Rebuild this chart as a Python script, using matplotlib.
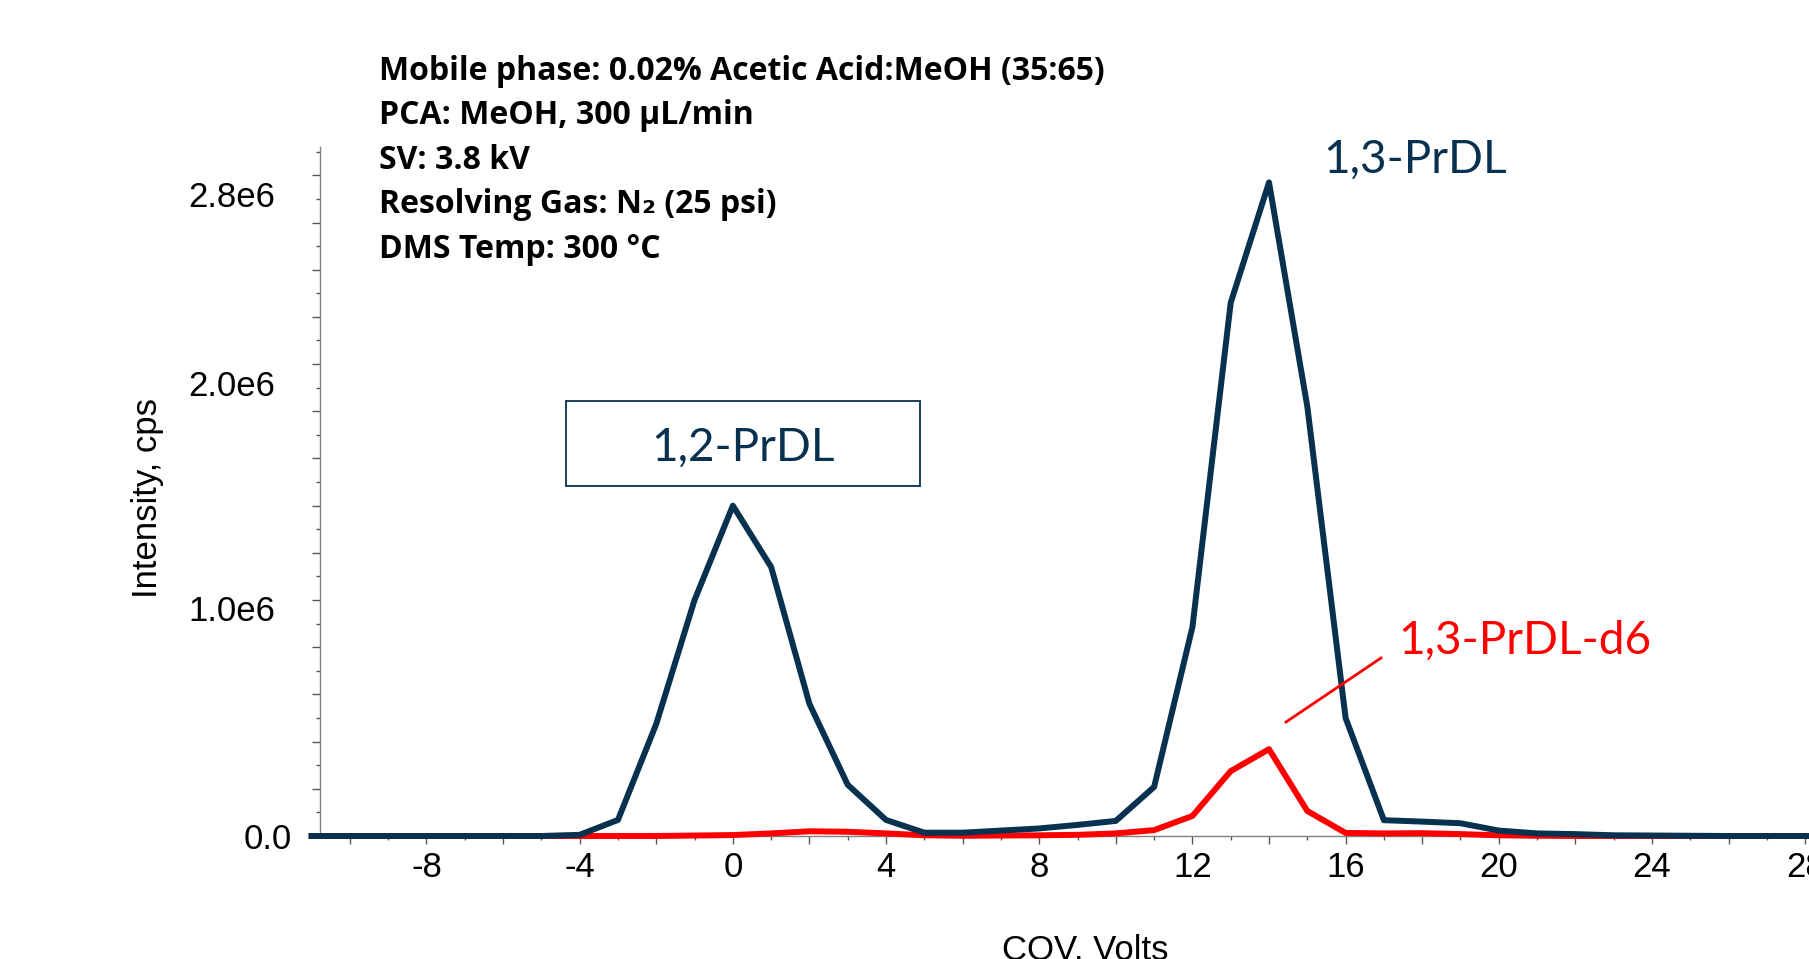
import matplotlib
matplotlib.use("Agg")
import matplotlib.pyplot as plt
import matplotlib.ticker as mticker
from matplotlib.patches import Rectangle
from matplotlib.lines import Line2D
from matplotlib.transforms import ScaledTranslation

# compensation voltage (V) and intensities (cps)
cov_volts = [-11, -10, -9, -8, -7, -6, -5, -4, -3, -2, -1, 0, 1, 2, 3, 4, 5, 6, 7, 8, 9,
             10, 11, 12, 13, 14, 15, 16, 17, 18, 19, 20, 21, 22, 23, 24, 25, 26, 27, 28, 29, 30]
prdl_cps = [0, 0, 0, 0, 0, 0, 0, 5e3, 68e3, 475e3, 1.00e6, 1.40e6, 1.14e6, 560e3, 217e3, 68e3,
            14e3, 14e3, 23e3, 32e3, 47e3, 64e3, 208e3, 885e3, 2.26e6, 2.77e6, 1.82e6, 500e3,
            67e3, 61e3, 54e3, 23e3, 11e3, 8e3, 3e3, 2e3, 1e3, 0, 0, 0, 0, 0]
d6_cps = [0, 0, 0, 0, 0, 0, 0, 0, 0, 0, 2e3, 4e3, 11e3, 20e3, 18e3, 11e3, 3e3, 1e3, 2e3, 3e3,
          5e3, 11e3, 25e3, 85e3, 275e3, 368e3, 106e3, 13e3, 11e3, 12e3, 8e3, 3e3, 1e3, 0, 0,
          0, 0, 0, 0, 0, 0, 0]

ytick_vals = [0, 1.0e6, 2.0e6, 2.8e6]
ytick_text = ["0.0", "1.0e6", "2.0e6", "2.8e6"]
xtick_label_step = 4

info_lines = ["Mobile phase: 0.02% Acetic Acid:MeOH (35:65)",
              "PCA: MeOH, 300 µL/min",
              "SV: 3.8 kV",
              "Resolving Gas: N\u2082 (25 psi)",
              "DMS Temp: 300 °C"]

# the y labels in the original sit a little off their ticks (px right, px down)
ytick_nudge_px = [(16, 0), (0, 8), (0, 19), (0, 19)]

navy = "#08304f"
red = "#ff0000"
narrow = ["Liberation Sans Narrow", "Liberation Sans", "DejaVu Sans"]
calib = ["Lato", "DejaVu Sans"]
bold_font = ["Open Sans", "DejaVu Sans"]

W, H = 1809, 959
fig = plt.figure(figsize=(W / 100, H / 100), dpi=100)
ax = fig.add_axes([320 / W, 1 - 836 / H, 1489 / W, 689 / H])

ax.plot(cov_volts, d6_cps, color=red, lw=4.3, clip_on=False, zorder=3)
ax.plot(cov_volts, prdl_cps, color=navy, lw=4.3, clip_on=False, zorder=4)

ax.set_xlim(-10.78, 28.1)
ax.set_ylim(0, 2.92e6)

for s in ["top", "right"]:
    ax.spines[s].set_visible(False)
for s in ["left", "bottom"]:
    ax.spines[s].set_color("#808080")
    ax.spines[s].set_linewidth(1.0)

ax.xaxis.set_major_locator(mticker.MultipleLocator(2))
ax.xaxis.set_minor_locator(mticker.MultipleLocator(1))
ax.xaxis.set_major_formatter(mticker.FuncFormatter(
    lambda v, p: "%d" % round(v) if round(v) % xtick_label_step == 0 else ""))

ax.yaxis.set_major_locator(mticker.MultipleLocator(0.2e6))
ax.yaxis.set_minor_locator(mticker.MultipleLocator(0.1e6))


def yfmt(v, p):
    for tv, tt in zip(ytick_vals, ytick_text):
        if abs(v - tv) < 1e3:
            return tt
    return ""


ax.yaxis.set_major_formatter(mticker.FuncFormatter(yfmt))

ax.tick_params(which="major", length=6, width=1, color="#555555")
ax.tick_params(which="minor", length=3, width=1, color="#555555")
ax.tick_params(axis="x", pad=5)
ax.tick_params(axis="y", pad=26)
for lbl in ax.get_xticklabels() + ax.get_yticklabels():
    lbl.set_family(narrow)
    lbl.set_fontsize(25)

fig.canvas.draw()
for tick, loc in zip(ax.yaxis.get_major_ticks(), ax.yaxis.get_majorticklocs()):
    for tv, (dx, dy) in zip(ytick_vals, ytick_nudge_px):
        if abs(loc - tv) < 1e3:
            tick.label1.set_transform(tick.label1.get_transform() +
                                      ScaledTranslation(dx / 100, -dy / 100, fig.dpi_scale_trans))

# axis titles
fig.text(1085 / W, -0.001, "COV, Volts", family=narrow, fontsize=25, ha="center", va="baseline")
fig.text(148 / W, 1 - 498 / H, "Intensity, cps", family=narrow, fontsize=25,
         rotation=90, ha="center", va="center")

# acquisition conditions
for i, line in enumerate(info_lines):
    fig.text(379 / W, 1 - (80 + i * 44.4) / H, line, family=bold_font, fontweight="bold",
             fontsize=23, ha="left", va="baseline")

# peak labels
fig.add_artist(Rectangle((566 / W, 1 - 486 / H), 354 / W, 85 / H, transform=fig.transFigure,
                         fill=False, ec=navy, lw=1.3))
fig.text(743 / W, 1 - 461 / H, "1,2-PrDL", family=calib, fontsize=33, color=navy,
         ha="center", va="baseline")
fig.text(1323 / W, 1 - 173 / H, "1,3-PrDL", family=calib, fontsize=33, color=navy,
         ha="left", va="baseline")
fig.text(1398 / W, 1 - 654 / H, "1,3-PrDL-d6", family=calib, fontsize=33, color=red,
         ha="left", va="baseline")
fig.add_artist(Line2D([1286 / W, 1381 / W], [1 - 722 / H, 1 - 658 / H],
                      transform=fig.transFigure, color=red, lw=2))

fig.savefig("out.png", dpi=100)
